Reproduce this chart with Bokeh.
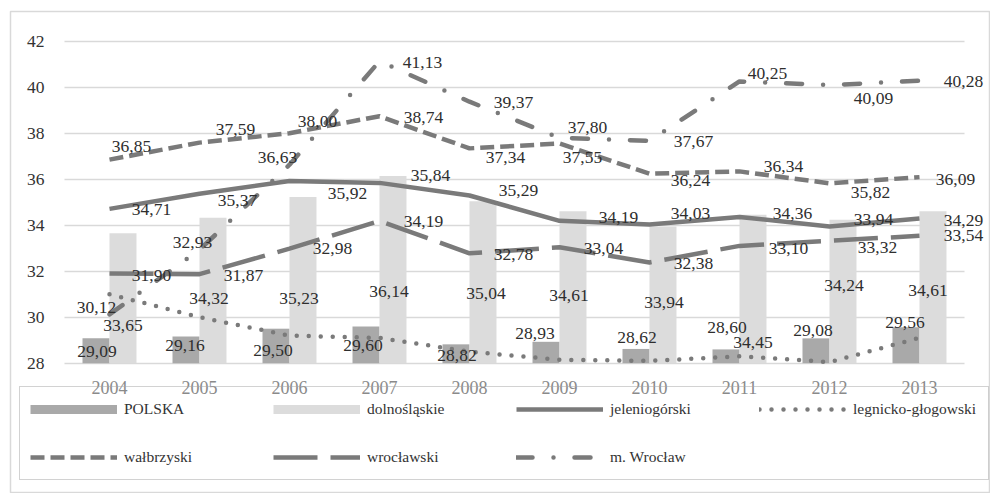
from bokeh.plotting import figure
from bokeh.models import (ColumnDataSource, Range1d, LinearAxis, FixedTicker, Grid,
                          Legend, LegendItem)
from bokeh.core.properties import value
from bokeh.embed import file_html
from bokeh.resources import INLINE

# ---------------- data ----------------
years = [2004, 2005, 2006, 2007, 2008, 2009, 2010, 2011, 2012, 2013]
polska = [29.09, 29.16, 29.50, 29.60, 28.82, 28.93, 28.62, 28.60, 29.08, 29.56]
dolnoslaskie = [33.65, 34.32, 35.23, 36.14, 35.04, 34.61, 33.94, 34.45, 34.24, 34.61]
jeleniogorski = [34.71, 35.37, 35.92, 35.84, 35.29, 34.19, 34.03, 34.36, 33.94, 34.29]
legnicko_glogowski = [31.0, 30.0, 29.2, 29.1, 28.5, 28.15, 28.1, 28.3, 28.05, 29.1]
walbrzyski = [36.85, 37.59, 38.00, 38.74, 37.34, 37.55, 36.24, 36.34, 35.82, 36.09]
wroclawski = [31.90, 31.87, 32.98, 34.19, 32.78, 33.04, 32.38, 33.10, 33.32, 33.54]
m_wroclaw = [30.12, 32.93, 36.63, 41.13, 39.37, 37.80, 37.67, 40.25, 40.09, 40.28]
y_ticks = [28, 30, 32, 34, 36, 38, 40, 42]

# ---------------- label nudges (screen px) ----------------
off_pl = ([1, -1, -3, -3, 1, -11, 1, 1, -3, -1], [13, 9, 22, 19, 11, -8, -11, -22, -8, -5])
off_dl = ([0, -4, -4, -4, 3, -4, 1, 0, 1, -5], [92, 81, 102, 116, 92, 84, 76, 128, 66, 79])
off_jg = ([42, 38, 58, 51, 49, 59, 41, 53, 44, 44], [1, 7, 12, -7, -5, -3, -11, -3, -7, 2])
off_wb = ([22, 36, 28, 44, 36, 23, 41, 44, 41, 36], [-13, -13, -12, 1, 9, 14, 7, -5, 9, 2])
off_wr = ([42, 44, 43, 44, 44, 44, 44, 49, 48, 44], [2, 1, 0, 1, 1, 1, 1, 3, 7, 0])
off_mw = ([-13, -7, -12, 43, 44, 28, 44, 28, 44, 44], [-7, -7, -7, 1, 1, -10, 1, -8, 13, 1])

FONT_S = "Liberation Serif"
FONT = value(FONT_S)
LINE = "#7a7a7a"
C_PL = "#a9a9a9"
C_DL = "#dcdcdc"

p = figure(width=990, height=493, output_backend="svg", toolbar_location=None,
           x_range=Range1d(2002.9, 2013.789), y_range=Range1d(22.335, 43.291),
           x_axis_location=None, y_axis_location=None,
           min_border_left=10, min_border_top=11, min_border_right=0, min_border_bottom=0)
p.grid.visible = False
p.outline_line_color = "#d9d9d9"
p.outline_line_width = 1.5
p.background_fill_color = "white"
p.border_fill_color = "white"

grid = Grid(dimension=1, ticker=FixedTicker(ticks=y_ticks), cross_bounds=(2003.5, 2013.5),
            grid_line_color="#d9d9d9", grid_line_width=1.3)
p.add_layout(grid)

yaxis = LinearAxis(fixed_location=2003.5, ticker=FixedTicker(ticks=y_ticks),
                   axis_line_color=None, major_tick_line_color=None, minor_tick_line_color=None,
                   major_label_standoff=14, major_label_text_font=FONT_S,
                   major_label_text_font_size="17.5px", major_label_text_color="#333333")
p.add_layout(yaxis, "left")
xaxis = LinearAxis(fixed_location=28, ticker=FixedTicker(ticks=years),
                   axis_line_color=None, major_tick_line_color=None, minor_tick_line_color=None,
                   major_label_standoff=12, major_label_text_font=FONT_S,
                   major_label_text_font_size="18px", major_label_text_color="#8a8a8a")
p.add_layout(xaxis, "below")

x_pl = [y - 0.15 for y in years]
x_dl = [y + 0.15 for y in years]
p.vbar(x=x_pl, top=polska, bottom=28, width=0.3, fill_color=C_PL, line_color=None)
p.vbar(x=x_dl, top=dolnoslaskie, bottom=28, width=0.3, fill_color=C_DL, line_color=None)

r_jg = p.line(years, jeleniogorski, line_color=LINE, line_width=4.5, line_join="round")
r_lg = p.line(years, legnicko_glogowski, line_color=LINE, line_width=4.5, line_dash="0 12",
              line_cap="round", line_join="round")
r_wb = p.line(years, walbrzyski, line_color=LINE, line_width=4.5, line_dash="14 6")
r_wr = p.line(years, wroclawski, line_color=LINE, line_width=4.5, line_dash="44 13")
r_mw = p.line(years, m_wroclaw, line_color=LINE, line_width=4.5, line_dash="16 21 0 21",
              line_cap="round", line_join="round")

# legend swatches for the bar series (a single undrawn point each)
nan = float("nan")
leg_pl = p.line(x=[years[0]], y=[nan], line_color=C_PL, line_width=9)
leg_dl = p.line(x=[years[0]], y=[nan], line_color=C_DL, line_width=9)


def fmt(v):
    return f"{v:.2f}".replace(".", ",")


def labels(xs, vals, off):
    src = ColumnDataSource(dict(x=xs, y=vals, t=[fmt(v) for v in vals], dx=off[0], dy=off[1]))
    p.text(x="x", y="y", text="t", x_offset="dx", y_offset="dy", source=src,
           text_align="center", text_baseline="middle", text_font=FONT,
           text_font_size="17.5px", text_color="#2e2e2e")


labels(x_pl, polska, off_pl)
labels(x_dl, dolnoslaskie, off_dl)
labels(years, jeleniogorski, off_jg)
labels(years, walbrzyski, off_wb)
labels(years, wroclawski, off_wr)
labels(years, m_wroclaw, off_mw)

legend = Legend(items=[
    LegendItem(label="POLSKA", renderers=[leg_pl]),
    LegendItem(label="dolnośląskie", renderers=[leg_dl]),
    LegendItem(label="jeleniogórski", renderers=[r_jg]),
    LegendItem(label="legnicko-głogowski", renderers=[r_lg]),
    LegendItem(label="wałbrzyski", renderers=[r_wb]),
    LegendItem(label="wrocławski", renderers=[r_wr]),
    LegendItem(label="m. Wrocław", renderers=[r_mw]),
], location=(9, 13), orientation="horizontal", ncols=4,
    glyph_width=87, glyph_height=24, label_height=24, label_width=125,
    label_standoff=7, spacing=24, padding=10, margin=0,
    border_line_color="#a6a6a6", border_line_width=1.5, background_fill_alpha=0,
    label_text_font=FONT_S, label_text_font_size="15.5px", label_text_color="#333333")
p.add_layout(legend, "center")

open("out.html", "w").write(file_html(p, INLINE))
